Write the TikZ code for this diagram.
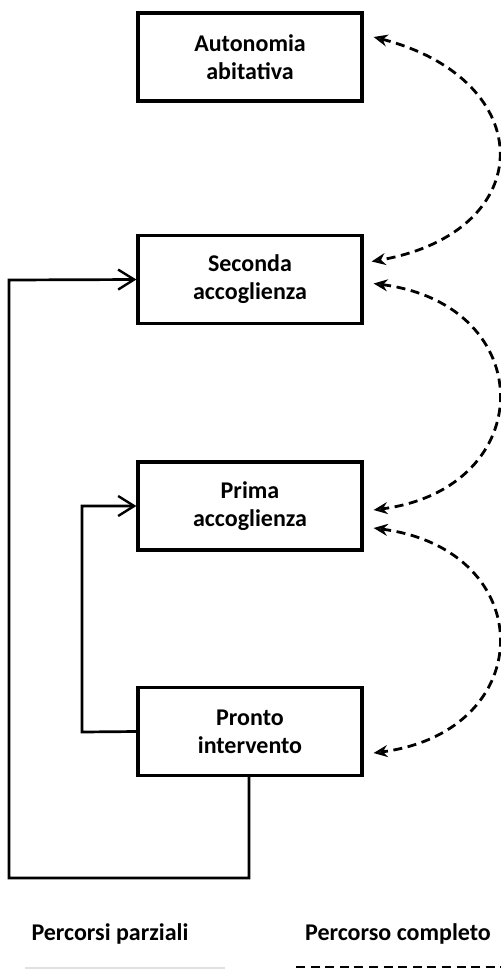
\documentclass[tikz,border=0pt]{standalone}
\usepackage{fontspec}
\setmainfont{Carlito}
\usetikzlibrary{arrows.meta,calc}
\tikzset{
  stagebox/.style={draw=black, line width=1.6pt, minimum width=112pt, minimum height=44pt,
    align=center, font=\bfseries\fontsize{12}{14}\selectfont, inner sep=0pt, fill=white},
  partial/.style={line width=1.35pt, -{Straight Barb[length=8pt,width=10pt,line width=1.2pt]}},
  complete/.style={line width=1.4pt, dash pattern=on 4.5pt off 2.8pt,
    {Stealth[open,length=7pt,width=6pt,line width=1.1pt]}-{Stealth[open,length=7pt,width=6pt,line width=1.1pt]}},
  legendtext/.style={font=\bfseries\fontsize{12}{14}\selectfont, inner sep=0pt}
}
\begin{document}
\begin{tikzpicture}[x=0.5pt,y=-0.5pt]
\useasboundingbox (0,0) rectangle (501,970);
\node[stagebox] (auto) at (250,57) {Autonomia\\abitativa};
\node[stagebox] (sec) at (250,279.5) {Seconda\\accoglienza};
\node[stagebox] (prima) at (250,506) {Prima\\accoglienza};
\node[stagebox] (pronto) at (250,731.5) {Pronto\\intervento};

% solid partial paths
\coordinate (c1) at (249,878);
\coordinate (c2) at (9,878);
\coordinate (c3) at (9,280);
\draw[partial] (pronto.south -| c1) -- (c1) -- (c2) -- (c3) -- (sec.west);
\coordinate (d1) at (82,732);
\coordinate (d2) at (82,506);
\draw[partial] (pronto.west) -- (d1) -- (d2) -- (prima.west);

% dashed complete path
\coordinate (a1) at ($(auto.east)+(10,-20)$);
\coordinate (a2) at ($(sec.east)+(8,-18)$);
\coordinate (b1) at ($(sec.east)+(10,4)$);
\coordinate (b2) at ($(prima.east)+(10,4)$);
\coordinate (e1) at ($(prima.east)+(10,22)$);
\coordinate (e2) at ($(pronto.east)+(10,21.5)$);
\draw[complete] (a1) .. controls (540,80) and (540,232) .. (a2);
\draw[complete] (b1) .. controls (540,305) and (540,488) .. (b2);
\draw[complete] (e1) .. controls (540,550) and (540,731) .. (e2);

% legend
\node[legendtext] (lp) at (110,934) {Percorsi parziali};
\node[legendtext] (lc) at (398,934) {Percorso completo};
\coordinate (lp1) at (25,968);
\coordinate (lp2) at (225,968);
\draw[line width=0.8pt, black!12] (lp1) -- (lp2);
\coordinate (lc1) at (296,967);
\coordinate (lc2) at (501,967);
\draw[line width=1.4pt, dash pattern=on 4.5pt off 2.8pt] (lc1) -- (lc2);
\end{tikzpicture}
\end{document}
